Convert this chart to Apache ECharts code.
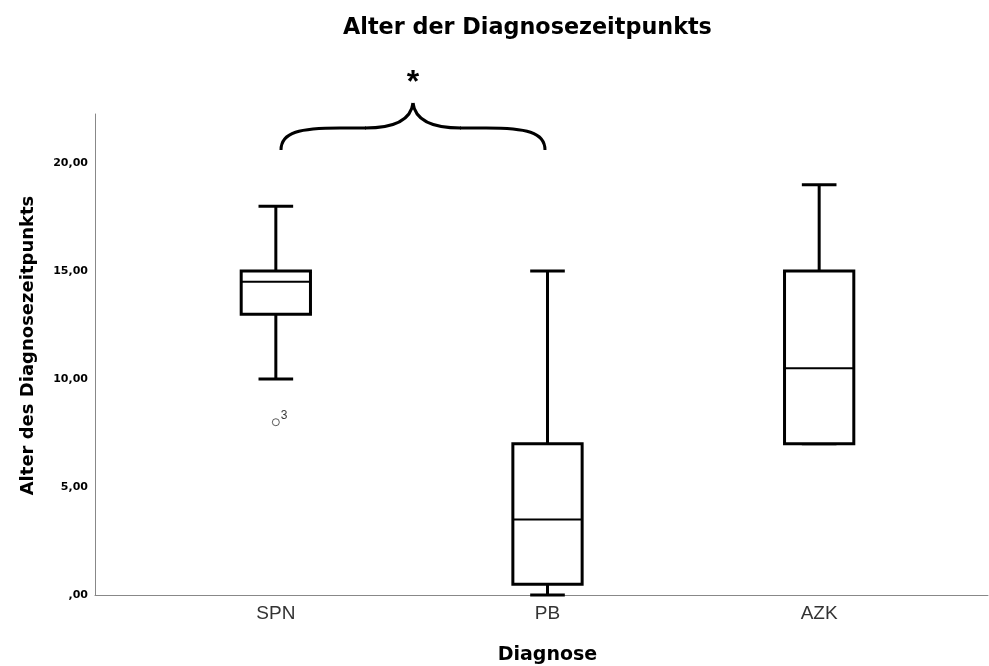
<!DOCTYPE html>
<html>
<head>
<meta charset="utf-8">
<script src="https://cdn.jsdelivr.net/npm/echarts@6/dist/echarts.min.js"></script>
<style>
  html, body { margin: 0; padding: 0; background: #fff; }
  #chart { width: 989px; height: 666px; }
</style>
</head>
<body>
<div id="chart"></div>
<script>
// Diagnose groups and their box statistics
const categories = ['SPN', 'PB', 'AZK'];
const whiskerLow = [10, 0, 7];
const quart1 = [13, 0.5, 7];
const medians = [14.5, 3.5, 10.5];
const quart3 = [15, 7, 15];
const whiskerHigh = [18, 15, 19];
// outliers: [group index, value, case label]
const outliers = [[0, 8, '3']];

const font = '"Liberation Sans", Arial, sans-serif';
const boldFont = '"DejaVu Sans", sans-serif';

const boxData = categories.map((c, i) => [i, whiskerLow[i], quart1[i], medians[i], quart3[i], whiskerHigh[i]]);

function yLabel(v) {
    if (v % 5 !== 0) return '';
    if (v === 0) return ',00';
    return v.toFixed(2).replace('.', ',');
}

function renderBox(params, api) {
    const idx = api.value(0);
    const cx = api.coord([idx, 0])[0];
    const band = api.size([1, 0])[0];
    const boxW = band * 0.255;
    const capW = boxW / 2;
    const yLow = api.coord([idx, api.value(1)])[1];
    const yQ1 = api.coord([idx, api.value(2)])[1];
    const yMed = api.coord([idx, api.value(3)])[1];
    const yQ3 = api.coord([idx, api.value(4)])[1];
    const yHigh = api.coord([idx, api.value(5)])[1];
    const line = { stroke: '#000', lineWidth: 3 };
    return {
        type: 'group',
        children: [
            { type: 'line', shape: { x1: cx, y1: yQ1, x2: cx, y2: yLow }, style: line },
            { type: 'line', shape: { x1: cx, y1: yQ3, x2: cx, y2: yHigh }, style: line },
            { type: 'line', shape: { x1: cx - capW / 2, y1: yLow, x2: cx + capW / 2, y2: yLow }, style: line },
            { type: 'line', shape: { x1: cx - capW / 2, y1: yHigh, x2: cx + capW / 2, y2: yHigh }, style: line },
            { type: 'rect', shape: { x: cx - boxW / 2, y: yQ3, width: boxW, height: yQ1 - yQ3 },
              style: { fill: '#fff', stroke: '#000', lineWidth: 3 } },
            { type: 'line', shape: { x1: cx - boxW / 2, y1: yMed, x2: cx + boxW / 2, y2: yMed },
              style: { stroke: '#000', lineWidth: 2 } }
        ]
    };
}

// significance brace between SPN and PB
const braceStyle = { fill: null, stroke: '#000', lineWidth: 3 };
const brace = [
    { type: 'bezierCurve', shape: { x1: 281, y1: 150, cpx1: 281, cpy1: 132, cpx2: 300, cpy2: 128, x2: 340, y2: 128 }, style: braceStyle },
    { type: 'line', shape: { x1: 340, y1: 128, x2: 366, y2: 128 }, style: braceStyle },
    { type: 'bezierCurve', shape: { x1: 365, y1: 128, cpx1: 395, cpy1: 128, cpx2: 411, cpy2: 120, x2: 413, y2: 103 }, style: braceStyle },
    { type: 'bezierCurve', shape: { x1: 413, y1: 103, cpx1: 415, cpy1: 120, cpx2: 431, cpy2: 128, x2: 461, y2: 128 }, style: braceStyle },
    { type: 'line', shape: { x1: 460, y1: 128, x2: 486, y2: 128 }, style: braceStyle },
    { type: 'bezierCurve', shape: { x1: 486, y1: 128, cpx1: 526, cpy1: 128, cpx2: 545, cpy2: 132, x2: 545, y2: 150 }, style: braceStyle }
];

const chart = echarts.init(document.getElementById('chart'));
chart.setOption({
    animation: false,
    backgroundColor: '#fff',
    title: {
        text: 'Alter der Diagnosezeitpunkts',
        left: 343,
        top: 17,
        padding: 0,
        textStyle: { fontFamily: boldFont, fontSize: 22.3, fontWeight: 'bold', color: '#000' }
    },
    grid: [
        { left: 95, right: 1, top: 114, bottom: 71, outerBoundsMode: 'none' },
        { left: 140, right: 34, top: 114, bottom: 71, outerBoundsMode: 'none' }
    ],
    xAxis: [
        {
            gridIndex: 0,
            type: 'value',
            min: 0,
            max: 1,
            axisLine: { show: true, lineStyle: { color: '#888', width: 1 } },
            axisTick: { show: false },
            axisLabel: { show: false },
            splitLine: { show: false }
        },
        {
            gridIndex: 1,
            type: 'category',
            data: categories,
            axisLine: { show: false },
            axisTick: { show: false },
            axisLabel: { margin: 9, fontFamily: font, fontSize: 19, color: '#333' },
            name: 'Diagnose',
            nameLocation: 'middle',
            nameGap: 51,
            nameTextStyle: { fontFamily: boldFont, fontSize: 19, fontWeight: 'bold', color: '#000' }
        }
    ],
    yAxis: [
        {
            gridIndex: 0,
            type: 'value',
            min: 0,
            max: 22.27,
            interval: 5,
            axisLine: { show: true, lineStyle: { color: '#888', width: 1 } },
            axisTick: { show: false },
            splitLine: { show: false },
            axisLabel: {
                formatter: yLabel,
                margin: 7,
                padding: [6, 0, 0, 0],
                fontFamily: boldFont,
                fontSize: 11,
                fontWeight: 'bold',
                color: '#000'
            },
            name: 'Alter des Diagnosezeitpunkts',
            nameLocation: 'middle',
            nameGap: 58,
            nameTextStyle: {
                fontFamily: boldFont, fontSize: 18, fontWeight: 'bold', color: '#000',
                padding: [0, 0, 0, 18]
            }
        },
        {
            gridIndex: 1,
            type: 'value',
            min: 0,
            max: 22.27,
            show: false
        }
    ],
    series: [
        {
            type: 'custom',
            xAxisIndex: 1,
            yAxisIndex: 1,
            data: boxData,
            encode: { x: 0, y: [1, 2, 3, 4, 5] },
            renderItem: renderBox,
            z: 3
        },
        {
            type: 'scatter',
            xAxisIndex: 1,
            yAxisIndex: 1,
            data: outliers,
            symbol: 'circle',
            symbolSize: 7,
            itemStyle: { color: '#fff', borderColor: '#333', borderWidth: 1 },
            label: {
                show: true,
                formatter: (p) => p.data[2],
                position: 'right',
                distance: 1,
                offset: [0, -7],
                fontFamily: font,
                fontSize: 12,
                color: '#000'
            },
            z: 4
        }
    ],
    graphic: brace.concat([
        {
            type: 'text',
            x: 413,
            y: 67,
            style: {
                text: '*',
                fontFamily: font,
                fontSize: 32,
                fontWeight: 'bold',
                fill: '#000',
                textAlign: 'center',
                textVerticalAlign: 'top'
            }
        }
    ])
});
</script>
</body>
</html>
